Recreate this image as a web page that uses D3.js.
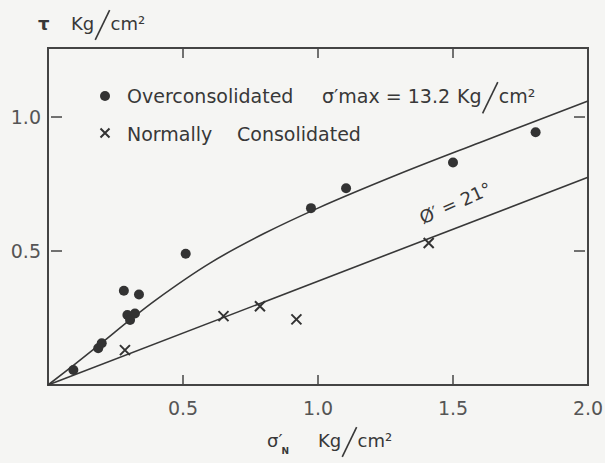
<!DOCTYPE html>
<html lang="en">
<head>
<meta charset="utf-8">
<script src="https://d3js.org/d3.v7.min.js"></script>
<style>
  body { margin: 0; background: #f5f5f3; }
  text { font-family: "DejaVu Sans", sans-serif; fill: #383838; }
</style>
</head>
<body>
<script>
    // overconsolidated samples (dots)
    var ocX = [0.094, 0.186, 0.199, 0.281, 0.337, 0.294, 0.322, 0.304, 0.51, 0.974, 1.104, 1.50, 1.806];
    var ocY = [0.056, 0.137, 0.156, 0.352, 0.338, 0.261, 0.267, 0.243, 0.49, 0.66, 0.734, 0.83, 0.943];

    // normally consolidated samples (crosses)
    var ncX = [0.285, 0.65, 0.785, 0.92, 1.41];
    var ncY = [0.13, 0.257, 0.294, 0.245, 0.53];

    // hand-drawn envelope through the overconsolidated points
    var curveX = [0, 0.1, 0.2, 0.3, 0.4, 0.6, 0.8, 1.0, 1.3, 1.6, 2.0];
    var curveY = [0, 0.078, 0.158, 0.24, 0.318, 0.455, 0.565, 0.66, 0.787, 0.905, 1.06];

    // straight line, phi' = 21 deg
    var lineX = [0, 2.0];
    var lineY = [0, 0.775];

    var xTicks = [0.5, 1.0, 1.5, 2.0];
    var xTickLabels = ["0.5", "1.0", "1.5", "2.0"];
    var yTicks = [0.5, 1.0];
    var yTickLabels = ["0.5", "1.0"];

    var width = 605, height = 463;
    // plot frame (note: "top" is taken by window.top, so prefixed names)
    var pL = 48, pR = 588, pT = 48, pB = 385;
    var ink = "#383838";

    var x = d3.scaleLinear().domain([0, 2]).range([pL, pR]);
    var y = d3.scaleLinear().domain([0, 1.2575]).range([pB, pT]);

    var svg = d3.select("body").append("svg")
        .attr("width", width)
        .attr("height", height);

    svg.append("rect").attr("width", width).attr("height", height).attr("fill", "#f5f5f3");

    // frame
    svg.append("rect")
        .attr("x", pL).attr("y", pT)
        .attr("width", pR - pL).attr("height", pB - pT)
        .attr("fill", "none").attr("stroke", "#444").attr("stroke-width", 2);

    // inward ticks on all four sides
    var tickLen = 10;
    xTicks.slice(0, 3).forEach(function (t) {
        svg.append("line").attr("x1", x(t)).attr("x2", x(t)).attr("y1", pB).attr("y2", pB - tickLen)
            .attr("stroke", "#444").attr("stroke-width", 1.5);
        svg.append("line").attr("x1", x(t)).attr("x2", x(t)).attr("y1", pT).attr("y2", pT + tickLen)
            .attr("stroke", "#444").attr("stroke-width", 1.5);
    });
    yTicks.forEach(function (t) {
        svg.append("line").attr("x1", pL + 3).attr("x2", pL + 14).attr("y1", y(t)).attr("y2", y(t))
            .attr("stroke", "#444").attr("stroke-width", 1.5);
        svg.append("line").attr("x1", pR - 14).attr("x2", pR - 3).attr("y1", y(t)).attr("y2", y(t))
            .attr("stroke", "#444").attr("stroke-width", 1.5);
    });

    // tick labels
    svg.selectAll(".xl").data(xTicks).enter().append("text")
        .attr("x", function (d) { return x(d); })
        .attr("y", pB + 30)
        .attr("text-anchor", "middle")
        .attr("font-size", 19)
        .style("fill", "#555")
        .text(function (d, i) { return xTickLabels[i]; });

    svg.selectAll(".yl").data(yTicks).enter().append("text")
        .attr("x", pL - 7)
        .attr("y", function (d) { return y(d) + 7; })
        .attr("text-anchor", "end")
        .attr("font-size", 19)
        .style("fill", "#555")
        .text(function (d, i) { return yTickLabels[i]; });

    // "Kg/cm²" with the tall hand-lettered slash
    function unitLabel(x0, base, size) {
        var kg = svg.append("text").attr("x", x0).attr("y", base).attr("font-size", size).text("Kg");
        var w = kg.node().getComputedTextLength();
        var sx = x0 + w + 1;
        svg.append("line")
            .attr("x1", sx).attr("y1", base + size * 0.55)
            .attr("x2", sx + size * 0.8).attr("y2", base - size * 1.1)
            .attr("stroke", ink).attr("stroke-width", 1.6);
        svg.append("text").attr("x", sx + size * 0.85).attr("y", base).attr("font-size", size)
            .text("cm²");
    }

    // y title
    svg.append("text").attr("x", 38).attr("y", 30).attr("font-size", 18).attr("font-weight", "bold").text("τ");
    unitLabel(71, 30, 18);

    // x title: sigma'_N
    var sig = svg.append("text").attr("x", 267).attr("y", 447).attr("font-size", 18).text("σ′");
    svg.append("text").attr("x", 267 + sig.node().getComputedTextLength() - 1).attr("y", 454)
        .attr("font-size", 9).attr("font-weight", "bold").text("N");
    unitLabel(318, 447, 18);

    // curves
    var path = d3.line().x(function (d) { return x(d[0]); }).y(function (d) { return y(d[1]); });

    svg.append("path")
        .attr("d", path.curve(d3.curveCatmullRom)(d3.zip(curveX, curveY)))
        .attr("fill", "none").attr("stroke", ink).attr("stroke-width", 1.6);

    svg.append("path")
        .attr("d", path.curve(d3.curveLinear)(d3.zip(lineX, lineY)))
        .attr("fill", "none").attr("stroke", ink).attr("stroke-width", 1.6);

    // points
    svg.selectAll(".oc").data(d3.zip(ocX, ocY)).enter().append("circle")
        .attr("cx", function (d) { return x(d[0]); })
        .attr("cy", function (d) { return y(d[1]); })
        .attr("r", 5)
        .attr("fill", "#333");

    function cross(cx, cy, s) {
        svg.append("path")
            .attr("d", "M" + (cx - s) + "," + (cy - s) + "L" + (cx + s) + "," + (cy + s) +
                       "M" + (cx - s) + "," + (cy + s) + "L" + (cx + s) + "," + (cy - s))
            .attr("stroke", "#333").attr("stroke-width", 2).attr("fill", "none");
    }
    d3.zip(ncX, ncY).forEach(function (d) { cross(x(d[0]), y(d[1]), 5); });

    // legend
    var fs = 19;
    svg.append("circle").attr("cx", 105).attr("cy", 96).attr("r", 5).attr("fill", "#333");
    svg.append("text").attr("x", 127).attr("y", 103).attr("font-size", fs).text("Overconsolidated");
    var smax = svg.append("text").attr("x", 322).attr("y", 103).attr("font-size", fs).text("σ′max = 13.2");
    unitLabel(322 + smax.node().getComputedTextLength() + 7, 103, fs);

    cross(105, 133, 4.5);
    svg.append("text").attr("x", 127).attr("y", 141).attr("font-size", fs).text("Normally");
    svg.append("text").attr("x", 237).attr("y", 141).attr("font-size", fs).text("Consolidated");

    // friction angle label along the line
    svg.append("text")
        .attr("transform", "translate(458,209) rotate(-24)")
        .attr("text-anchor", "middle")
        .attr("font-size", 18)
        .text("Ø′ = 21°");
</script>
</body>
</html>
